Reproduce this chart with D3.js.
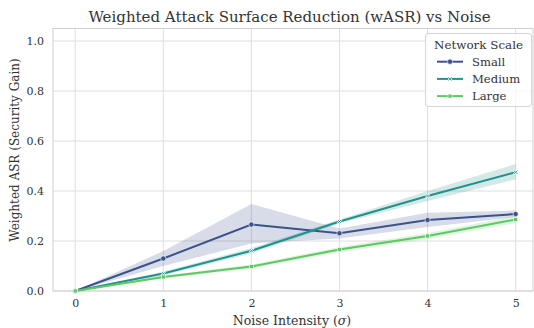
<!DOCTYPE html>
<html><head><meta charset="utf-8">
<script src="https://cdn.jsdelivr.net/npm/d3@7"></script>
<style>body{margin:0;background:#fff}svg{display:block}text{font-family:"DejaVu Serif",serif;fill:#333}</style>
</head><body><svg id="c" width="534" height="328"></svg>
<script>
const noise = [0, 1, 2, 3, 4, 5];
const seriesNames = ["Small", "Medium", "Large"];
const smallMean = [0, 0.13, 0.266, 0.231, 0.284, 0.308];
const smallLo   = [0, 0.10, 0.19, 0.21, 0.256, 0.295];
const smallHi   = [0, 0.16, 0.348, 0.25, 0.313, 0.322];
const mediumMean = [0, 0.07, 0.161, 0.278, 0.38, 0.475];
const mediumLo   = [0, 0.062, 0.15, 0.27, 0.36, 0.447];
const mediumHi   = [0, 0.078, 0.172, 0.286, 0.40, 0.508];
const largeMean = [0, 0.056, 0.098, 0.166, 0.22, 0.286];
const largeLo   = [0, 0.05, 0.09, 0.156, 0.208, 0.272];
const largeHi   = [0, 0.062, 0.106, 0.176, 0.232, 0.3];
const xTicks = [0, 1, 2, 3, 4, 5];
const yTicks = [0.0, 0.2, 0.4, 0.6, 0.8, 1.0];
const colors = ["#3b528b", "#21918c", "#5ec962"];

const series = [
  {name: seriesNames[0], mean: smallMean, lo: smallLo, hi: smallHi, color: colors[0], marker: "o"},
  {name: seriesNames[1], mean: mediumMean, lo: mediumLo, hi: mediumHi, color: colors[1], marker: "x"},
  {name: seriesNames[2], mean: largeMean, lo: largeLo, hi: largeHi, color: colors[2], marker: "s"}
];

const svg = d3.select("#c");
const L = 53, R = 533, T = 28.5, B = 291;
const x = d3.scaleLinear().domain([-0.252, 5.197]).range([L, R]);
const y = d3.scaleLinear().domain([0, 1.05]).range([B, T]);

// grid
const g = svg.append("g");
g.selectAll(".gx").data(xTicks).join("line")
  .attr("x1", d => x(d)).attr("x2", d => x(d)).attr("y1", T).attr("y2", B)
  .attr("stroke", "#dedede").attr("stroke-width", 1);
g.selectAll(".gy").data(yTicks).join("line")
  .attr("x1", L).attr("x2", R).attr("y1", d => y(d)).attr("y2", d => y(d))
  .attr("stroke", "#dedede").attr("stroke-width", 1);
svg.append("rect").attr("x", L).attr("y", T).attr("width", R - L).attr("height", B - T)
  .attr("fill", "none").attr("stroke", "#d0d0d0").attr("stroke-width", 1);

// axes (labels only)
const xa = svg.append("g").attr("transform", `translate(0,${B})`)
  .call(d3.axisBottom(x).tickValues(xTicks).tickFormat(d3.format("d")).tickSize(0).tickPadding(8));
const ya = svg.append("g").attr("transform", `translate(${L},0)`)
  .call(d3.axisLeft(y).tickValues(yTicks).tickFormat(d3.format(".1f")).tickSize(0).tickPadding(9));
[xa, ya].forEach(a => {
  a.select(".domain").remove();
  a.selectAll("text").attr("font-family", "DejaVu Serif").attr("font-size", 11).attr("fill", "#333");
});

// bands
series.forEach(s => {
  const area = d3.area().x((d, i) => x(noise[i])).y0((d, i) => y(s.lo[i])).y1((d, i) => y(s.hi[i]));
  svg.append("path").datum(s.mean).attr("d", area).attr("fill", s.color).attr("fill-opacity", 0.2);
});
// lines
series.forEach(s => {
  const line = d3.line().x((d, i) => x(noise[i])).y(d => y(d));
  svg.append("path").datum(s.mean).attr("d", line).attr("fill", "none")
    .attr("stroke", s.color).attr("stroke-width", 2);
});
function marker(sel, s, cx, cy) {
  if (s.marker === "o") {
    sel.append("circle").attr("cx", cx).attr("cy", cy).attr("r", 2.6)
      .attr("fill", s.color).attr("stroke", "#fff").attr("stroke-width", 0.6);
  } else if (s.marker === "x") {
    sel.append("path").attr("d", `M${cx-2},${cy-2}L${cx+2},${cy+2}M${cx-2},${cy+2}L${cx+2},${cy-2}`)
      .attr("stroke", "#fff").attr("stroke-width", 1.8);
    sel.append("path").attr("d", `M${cx-1.6},${cy-1.6}L${cx+1.6},${cy+1.6}M${cx-1.6},${cy+1.6}L${cx+1.6},${cy-1.6}`)
      .attr("stroke", s.color).attr("stroke-width", 0.9);
  } else {
    sel.append("rect").attr("x", cx - 2).attr("y", cy - 2).attr("width", 4).attr("height", 4)
      .attr("fill", s.color).attr("stroke", "#fff").attr("stroke-width", 0.6);
  }
}
series.forEach(s => {
  const mg = svg.append("g");
  s.mean.forEach((d, i) => marker(mg, s, x(noise[i]), y(d)));
});

// labels
svg.append("text").attr("x", 289.5).attr("y", 22).attr("text-anchor", "middle")
  .attr("font-size", 15).text("Weighted Attack Surface Reduction (wASR) vs Noise");
svg.append("text").attr("x", 292).attr("y", 325).attr("text-anchor", "middle")
  .attr("font-size", 12.5).html('Noise Intensity (<tspan font-style="italic">σ</tspan>)');
svg.append("text").attr("transform", "translate(19,150) rotate(-90)").attr("text-anchor", "middle")
  .attr("font-size", 12).text("Weighted ASR (Security Gain)");

// legend
const lg = svg.append("g");
lg.append("rect").attr("x", 425.5).attr("y", 33.5).attr("width", 106).attr("height", 73).attr("rx", 2.5)
  .attr("fill", "#fff").attr("fill-opacity", 0.8).attr("stroke", "#d6d6d6").attr("stroke-width", 1);
lg.append("text").attr("x", 478.5).attr("y", 48.5).attr("text-anchor", "middle").attr("font-size", 11.9)
  .text("Network Scale");
series.forEach((s, i) => {
  const yy = 61.7 + i * 17.2;
  lg.append("line").attr("x1", 437).attr("x2", 463).attr("y1", yy).attr("y2", yy)
    .attr("stroke", s.color).attr("stroke-width", 2);
  marker(lg, s, 450, yy);
  lg.append("text").attr("x", 472).attr("y", yy + 4.2).attr("font-size", 11.6).text(s.name);
});
</script></body></html>
